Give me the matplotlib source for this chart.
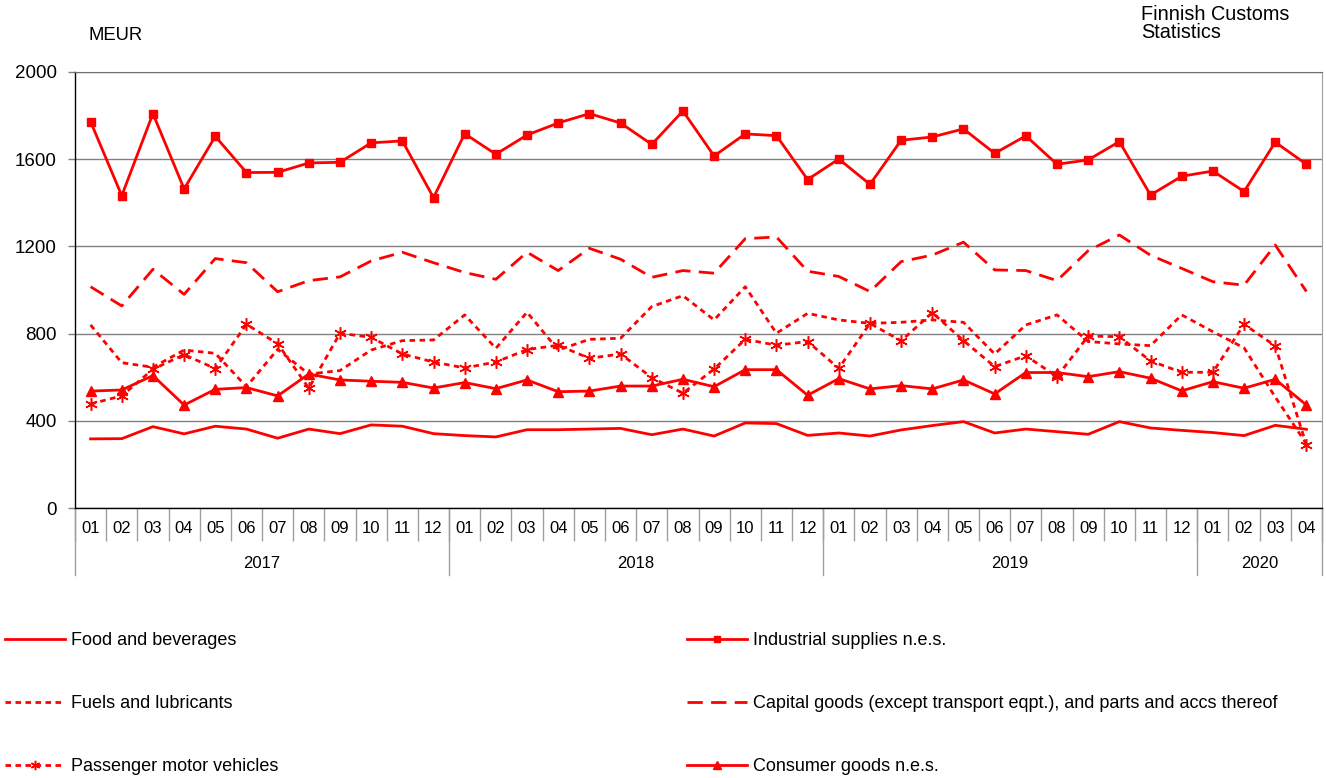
import numpy as np
import matplotlib.pyplot as plt

plt.rcParams['font.family'] = ['Liberation Sans', 'DejaVu Sans']

# categories
months = ['01', '02', '03', '04', '05', '06', '07', '08', '09', '10', '11', '12'] * 3 + ['01', '02', '03', '04']
years = ['2017', '2018', '2019', '2020']
months_per_year = [12, 12, 12, 4]

# MEUR, 2017-01 .. 2020-04
food = [318, 319, 374, 341, 376, 363, 321, 363, 342, 382, 376, 342,
        333, 327, 360, 360, 363, 366, 337, 363, 331, 391, 388, 334,
        345, 331, 359, 379, 397, 345, 363, 351, 339, 397, 368, 357,
        347, 333, 380, 362]
industrial = [1771, 1432, 1808, 1463, 1704, 1538, 1539, 1582, 1585, 1674, 1683, 1423,
              1716, 1622, 1710, 1765, 1808, 1765, 1667, 1820, 1614, 1715, 1707, 1506,
              1600, 1484, 1686, 1701, 1738, 1626, 1706, 1576, 1596, 1680, 1435, 1521,
              1545, 1451, 1677, 1576]
fuels = [840, 667, 646, 725, 710, 557, 728, 615, 631, 725, 768, 771,
         886, 733, 898, 725, 774, 779, 924, 974, 863, 1015, 802, 893,
         863, 847, 852, 863, 852, 707, 840, 886, 764, 753, 745, 886,
         809, 735, 510, 295]
capital = [1015, 927, 1095, 980, 1144, 1125, 992, 1043, 1060, 1133, 1173, 1125,
           1080, 1049, 1173, 1089, 1191, 1141, 1058, 1089, 1077, 1235, 1243, 1086,
           1062, 993, 1130, 1160, 1219, 1092, 1089, 1043, 1180, 1252, 1159, 1099,
           1038, 1022, 1206, 993]
passenger = [478, 515, 637, 704, 640, 843, 754, 550, 802, 783, 707, 670,
             643, 670, 727, 747, 687, 707, 599, 527, 638, 774, 747, 764,
             641, 847, 767, 896, 768, 649, 699, 603, 789, 786, 675, 623,
             623, 843, 744, 290]
consumer = [537, 542, 608, 473, 545, 553, 515, 615, 588, 582, 577, 551,
            576, 548, 588, 534, 537, 560, 560, 591, 557, 635, 635, 518,
            594, 547, 562, 547, 588, 524, 622, 622, 603, 626, 596, 538,
            580, 550, 591, 473]

W, H = 1326, 778
fig = plt.figure(figsize=(W / 100, H / 100), dpi=100)
ax = fig.add_axes([75 / W, 1 - 508.3 / H, 1247 / W, 436.6 / H])

red = '#ff0000'
x = np.arange(len(months))
lw = 2
star = (6, 2, 0)  # asterisk

l_food, = ax.plot(x, food, color=red, lw=lw, label='Food and beverages')
l_ind, = ax.plot(x, industrial, color=red, lw=lw, marker='s', ms=5.5,
                 label='Industrial supplies n.e.s.')
l_fuel, = ax.plot(x, fuels, color=red, lw=lw, dashes=(2, 1.6),
                  label='Fuels and lubricants')
l_cap, = ax.plot(x, capital, color=red, lw=lw, dashes=(5.5, 3),
                 label='Capital goods (except transport eqpt.), and parts and accs thereof')
l_pas, = ax.plot(x, passenger, color=red, lw=lw, dashes=(2, 1.6), marker=star,
                 ms=9, mew=1.1, label='Passenger motor vehicles')
l_con, = ax.plot(x, consumer, color=red, lw=lw, marker='^', ms=7,
                 label='Consumer goods n.e.s.')

ax.set_xlim(-0.5, len(months) - 0.5)
ax.set_ylim(0, 2000)
ax.set_yticks([0, 400, 800, 1200, 1600, 2000])
ax.grid(axis='y', color='#808080', lw=1)
ax.set_axisbelow(True)

for s in ['left', 'bottom']:
    ax.spines[s].set_color('black')
    ax.spines[s].set_linewidth(1)
ax.spines['top'].set_color('#707070')
ax.spines['right'].set_color('#a0a0a0')

ax.tick_params(axis='y', length=5, width=1, color='#808080', labelsize=13.5, pad=8)

# month labels and separators
ax.set_xticks(x)
ax.set_xticklabels(months)
ax.set_xticks(np.arange(len(months) + 1) - 0.5, minor=True)
ax.tick_params(axis='x', which='major', length=0, labelsize=12, pad=9)
ax.tick_params(axis='x', which='minor', length=24, width=1, color='#a0a0a0')

# year labels and separators
tr = ax.get_xaxis_transform()
bounds = np.concatenate([[0], np.cumsum(months_per_year)]) - 0.5
for b in bounds:
    ax.plot([b, b], [0, -0.1528], transform=tr, color='#a0a0a0', lw=1, clip_on=False)
for i, yr in enumerate(years):
    ax.text((bounds[i] + bounds[i + 1]) / 2, -0.1253, yr, transform=tr,
            ha='center', va='center', fontsize=12)

fig.text(88 / W, 1 - 36 / H, 'MEUR', fontsize=13.3, va='center')
fig.text(1141 / W, 1 - 15 / H, 'Finnish Customs', fontsize=14.3, va='center')
fig.text(1141 / W, 1 - 32 / H, 'Statistics', fontsize=14.3, va='center')

leg_kw = dict(frameon=False, fontsize=13, borderpad=0, borderaxespad=0,
              handlelength=3.3, handletextpad=0.35, labelspacing=2.55,
              markerscale=0.75, loc='upper left')
fig.legend(handles=[l_food, l_fuel, l_pas], bbox_to_anchor=(5 / W, 1 - 632 / H), **leg_kw)
fig.legend(handles=[l_ind, l_cap, l_con], bbox_to_anchor=(687 / W, 1 - 632 / H), **leg_kw)

fig.savefig('out.png', dpi=100)
